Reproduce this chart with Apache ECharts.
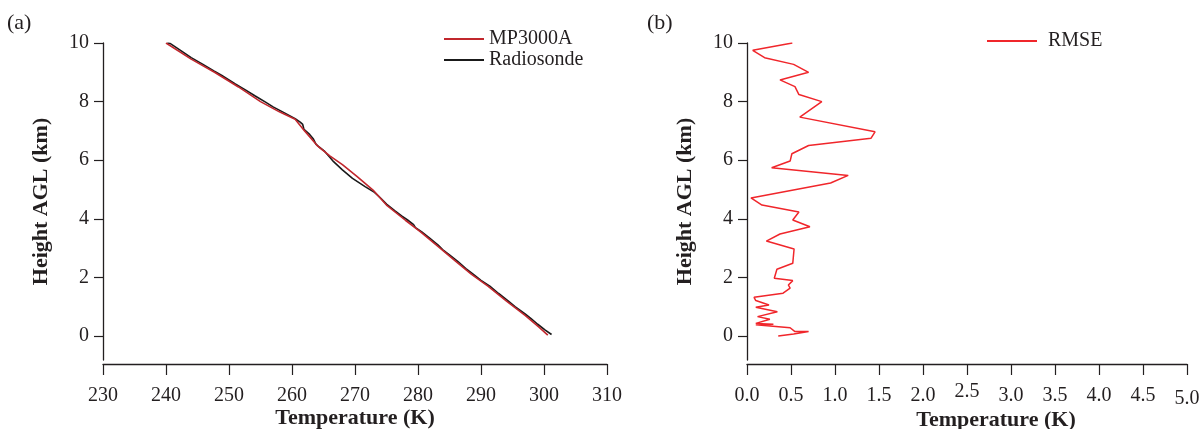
<!DOCTYPE html>
<html>
<head>
<meta charset="utf-8">
<script src="https://cdn.jsdelivr.net/npm/echarts@6/dist/echarts.min.js"></script>
<style>
  html, body { margin: 0; padding: 0; background: #ffffff; }
  #chart { width: 1204px; height: 429px; }
</style>
</head>
<body>
<div id="chart"></div>
<script>
// ---- data ----
const heightTicks = [0, 2, 4, 6, 8, 10];
const tempTicks = [230, 240, 250, 260, 270, 280, 290, 300, 310];
const rmseTicks = [0.0, 0.5, 1.0, 1.5, 2.0, 2.5, 3.0, 3.5, 4.0, 4.5, 5.0];

const mp3000aTemp   = [240.0, 244.0, 247.7, 251.5, 255.0, 258.0, 260.5, 262.0, 264.0, 266.0, 268.0, 270.3, 273.0, 275.0, 278.0, 280.4, 283.5, 286.0, 288.5, 291.1, 294.0, 297.0, 299.2, 300.6];
const mp3000aHeight = [10.0, 9.45, 9.0, 8.5, 8.0, 7.65, 7.4, 7.0, 6.5, 6.15, 5.85, 5.45, 4.95, 4.47, 3.95, 3.55, 3.0, 2.55, 2.1, 1.7, 1.2, 0.7, 0.3, 0.03];

const radiosondeTemp   = [240.2, 240.7, 242.3, 244.0, 245.8, 247.6, 248.8, 251.0, 252.6, 254.1, 255.8, 257.0, 258.5, 260.5, 261.3, 261.7, 261.9, 262.8, 263.4, 263.8, 264.3, 265.2, 266.0, 266.6, 268.0, 269.6, 271.6, 273.1, 274.1, 275.0, 276.3, 277.4, 278.4, 279.3, 279.6, 280.6, 281.8, 283.2, 283.9, 285.1, 286.3, 287.6, 288.8, 290.0, 291.4, 292.8, 294.3, 295.4, 297.0, 297.9, 299.0, 300.2, 301.2];
const radiosondeHeight = [10.0, 9.98, 9.75, 9.5, 9.28, 9.05, 8.9, 8.6, 8.4, 8.2, 7.98, 7.82, 7.65, 7.42, 7.3, 7.22, 7.05, 6.88, 6.72, 6.55, 6.45, 6.3, 6.1, 5.95, 5.67, 5.38, 5.1, 4.9, 4.7, 4.5, 4.28, 4.1, 3.95, 3.8, 3.7, 3.55, 3.35, 3.1, 2.95, 2.75, 2.55, 2.3, 2.1, 1.9, 1.7, 1.45, 1.2, 1.0, 0.75, 0.6, 0.4, 0.2, 0.05];

const rmseValue  = [0.515, 0.065, 0.20, 0.53, 0.70, 0.375, 0.545, 0.59, 0.85, 0.60, 1.455, 1.41, 0.70, 0.585, 0.51, 0.49, 0.28, 1.15, 0.95, 0.045, 0.17, 0.59, 0.52, 0.715, 0.375, 0.22, 0.535, 0.52, 0.34, 0.31, 0.52, 0.47, 0.49, 0.41, 0.08, 0.10, 0.25, 0.10, 0.345, 0.12, 0.26, 0.10, 0.30, 0.10, 0.49, 0.545, 0.70, 0.53, 0.355];
const rmseHeight = [10.0, 9.75, 9.5, 9.27, 9.0, 8.74, 8.51, 8.24, 8.0, 7.47, 6.97, 6.75, 6.5, 6.33, 6.22, 5.97, 5.74, 5.48, 5.22, 4.71, 4.47, 4.23, 3.96, 3.73, 3.48, 3.24, 2.97, 2.48, 2.28, 1.97, 1.89, 1.74, 1.63, 1.46, 1.32, 1.21, 1.06, 0.98, 0.83, 0.66, 0.57, 0.43, 0.40, 0.38, 0.28, 0.15, 0.15, 0.07, 0.0];

// ---- build ----
const pairs = (xs, ys) => xs.map((x, i) => [x, ys[i]]);
const FONT = "'Liberation Serif', 'DejaVu Serif', serif";
const INK = '#231f20';

const chart = echarts.init(document.getElementById('chart'), null, { renderer: 'canvas' });

function yAxisFor(gi) {
  return {
    type: 'value', gridIndex: gi, min: -0.82, max: 10,
    axisLine: { show: true, onZero: false, lineStyle: { color: INK, width: 1.3 } },
    axisTick: { show: true, length: 9, customValues: heightTicks, lineStyle: { color: INK, width: 1.2 } },
    axisLabel: { show: true, customValues: heightTicks, margin: 14, fontSize: 20, fontFamily: FONT, color: INK },
    splitLine: { show: false },
    name: 'Height AGL (km)', nameLocation: 'middle', nameGap: 51, nameRotate: 90, nameMoveOverlap: false,
    nameTextStyle: { fontSize: 22, fontWeight: 'bold', fontFamily: FONT, color: INK }
  };
}

const option = {
  backgroundColor: '#ffffff',
  animation: false,
  grid: [
    { left: 103, top: 43, width: 504, height: 317, outerBoundsMode: 'none', containLabel: false },
    { left: 747, top: 43, width: 440, height: 317, outerBoundsMode: 'none', containLabel: false }
  ],
  xAxis: [
    {
      type: 'value', gridIndex: 0, min: tempTicks[0], max: tempTicks[tempTicks.length - 1], interval: 10,
      position: 'bottom', offset: 4,
      axisLine: { show: true, onZero: false, lineStyle: { color: INK, width: 1.3 } },
      axisTick: { show: true, length: 11, lineStyle: { color: INK, width: 1.2 } },
      axisLabel: { margin: 22, fontSize: 20, fontFamily: FONT, color: INK, showMinLabel: true, showMaxLabel: true },
      splitLine: { show: false },
      name: 'Temperature (K)', nameLocation: 'middle', nameGap: 43, nameMoveOverlap: false,
      nameTextStyle: { fontSize: 22, fontWeight: 'bold', fontFamily: FONT, color: INK }
    },
    {
      type: 'value', gridIndex: 1, min: rmseTicks[0], max: rmseTicks[rmseTicks.length - 1], interval: 0.5,
      position: 'bottom', offset: 4,
      axisLine: { show: true, onZero: false, lineStyle: { color: INK, width: 1.3 } },
      axisTick: { show: true, length: 11, lineStyle: { color: INK, width: 1.2 } },
      axisLabel: {
        margin: 18, fontSize: 20, fontFamily: FONT, color: INK, showMinLabel: true, showMaxLabel: true,
        formatter: function (v) {
          const s = v.toFixed(1);
          if (Math.abs(v - 2.5) < 1e-6) return '{up|' + s + '}';
          if (Math.abs(v - 5.0) < 1e-6) return '{dn|' + s + '}';
          return '{n|' + s + '}';
        },
        rich: {
          n: { fontSize: 20, fontFamily: FONT, color: INK, padding: [4, 0, 0, 0] },
          up: { fontSize: 20, fontFamily: FONT, color: INK, padding: [0, 0, 0, 0] },
          dn: { fontSize: 20, fontFamily: FONT, color: INK, padding: [7, 0, 0, 0] }
        }
      },
      splitLine: { show: false },
      name: 'Temperature (K)', nameLocation: 'middle', nameGap: 45, nameMoveOverlap: false,
      nameTextStyle: { fontSize: 22, fontWeight: 'bold', fontFamily: FONT, color: INK, padding: [0, 0, 0, 58] }
    }
  ],
  yAxis: [yAxisFor(0), yAxisFor(1)],
  legend: [
    {
      data: ['MP3000A', 'Radiosonde'], orient: 'vertical', left: 439, top: 24,
      icon: 'rect', itemWidth: 40, itemHeight: 2, itemGap: 1, selectedMode: false,
      textStyle: { fontSize: 20, lineHeight: 20, fontFamily: FONT, color: INK }
    },
    {
      data: ['RMSE'], orient: 'vertical', left: 982, top: 26,
      icon: 'rect', itemWidth: 50, itemHeight: 2, selectedMode: false,
      textStyle: { fontSize: 20, lineHeight: 20, fontFamily: FONT, color: INK, padding: [0, 0, 0, 6] }
    }
  ],
  graphic: [
    { type: 'text', left: 7, top: 12, style: { text: '(a)', fontSize: 22, fontFamily: FONT, fill: INK } },
    { type: 'text', left: 647, top: 12, style: { text: '(b)', fontSize: 22, fontFamily: FONT, fill: INK } }
  ],
  series: [
    {
      name: 'Radiosonde', type: 'line', xAxisIndex: 0, yAxisIndex: 0,
      data: pairs(radiosondeTemp, radiosondeHeight), showSymbol: false, symbol: 'none',
      color: '#1a1a1a', lineStyle: { color: '#1a1a1a', width: 1.6 }, z: 2
    },
    {
      name: 'MP3000A', type: 'line', xAxisIndex: 0, yAxisIndex: 0,
      data: pairs(mp3000aTemp, mp3000aHeight), showSymbol: false, symbol: 'none',
      color: '#c1272d', lineStyle: { color: '#c1272d', width: 1.6 }, z: 3
    },
    {
      name: 'RMSE', type: 'line', xAxisIndex: 1, yAxisIndex: 1,
      data: pairs(rmseValue, rmseHeight), showSymbol: false, symbol: 'none',
      color: '#f0262b', lineStyle: { color: '#f0262b', width: 1.5 }, z: 3
    }
  ]
};
chart.setOption(option);
</script>
</body>
</html>
